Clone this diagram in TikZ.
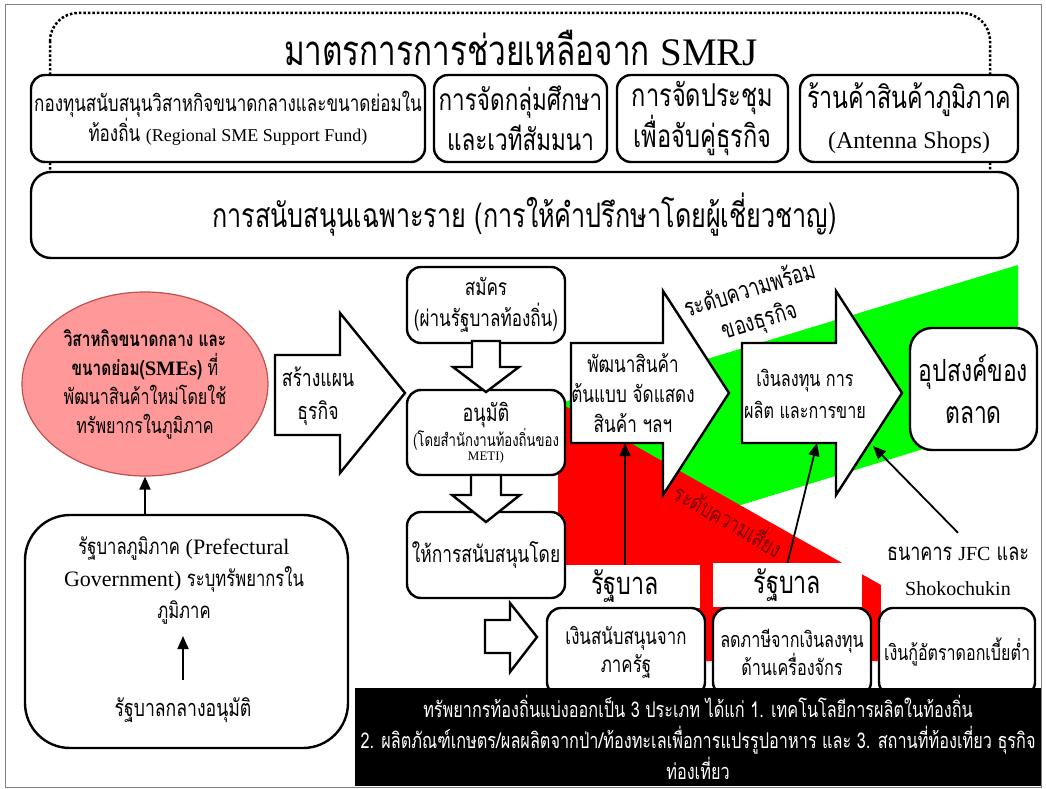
\documentclass[tikz,border=0pt]{standalone}
\usepackage{fontspec}
\setmainfont{Loma}[Script=Thai,FakeStretch=0.75]
\newfontfamily\latfont{Liberation Serif}
\usetikzlibrary{arrows.meta,shapes.geometric,positioning}
\newcommand\fsz[2]{\fontsize{#1}{#2}\selectfont}
\definecolor{smefill}{RGB}{255,153,153}
\definecolor{smeline}{RGB}{192,80,77}
\definecolor{riskred}{RGB}{120,0,0}
\definecolor{readygreen}{RGB}{0,255,0}
\definecolor{riskfill}{RGB}{255,0,0}
\tikzset{
	rbox/.style={draw, line width=2.4pt, rounded corners=14pt, fill=white, align=center, inner sep=0pt},
	barrow/.style={draw, line width=2.4pt, fill=white, line join=miter, miter limit=20},
	wlabel/.style={fill=white, inner sep=0pt, align=center},
	txt/.style={align=center, inner sep=0pt},
	conn/.style={line width=1.8pt, -{Triangle[length=13pt,width=11pt]}}
}
\begin{document}
\begin{tikzpicture}[x=1pt,y=-1pt]
	\useasboundingbox (0,0) rectangle (1046,789);
	\draw[gray, line width=0.8pt] (5,4) rectangle (1041,787);
	% SMRJ measures
	\draw[line width=2.5pt, dotted, rounded corners=28pt] (50,13) rectangle (990,230);
	\node[txt, font=\fsz{42}{46}] (title) at (521,48) {มาตรการการช่วยเหลือจาก {\latfont\fsz{39}{46}SMRJ}};
	\node[rbox, minimum width=394, minimum height=87, font=\fsz{22.7}{30}] (fund) at (228,118.5)
		{กองทุนสนับสนุนวิสาหกิจขนาดกลางและขนาดย่อมใน\\ท้องถิ่น {\latfont\fsz{18}{30}(Regional SME Support Fund)}};
	\node[rbox, minimum width=173, minimum height=87, font=\fsz{30}{40}] (seminar) at (520.5,118.5) {การจัดกลุ่มศึกษา\\และเวทีสัมมนา};
	\node[rbox, minimum width=171, minimum height=87, font=\fsz{31.5}{40}] (matching) at (702.5,118.5) {การจัดประชุม\\เพื่อจับคู่ธุรกิจ};
	\node[rbox, minimum width=218, minimum height=87, font=\fsz{31}{40}] (shops) at (909,118.5) {ร้านค้าสินค้าภูมิภาค\\{\latfont\fsz{24}{40}(Antenna Shops)}};
	\node[rbox, rounded corners=20pt, minimum width=987, minimum height=86, font=\fsz{33.6}{40}] (advice) at (524.5,215)
		{การสนับสนุนเฉพาะราย (การให้คำปรึกษาโดยผู้เชี่ยวชาญ)};
	% readiness and risk
	\fill[readygreen] (558,404) -- (1018,265) -- (1018,420) -- (558,561) -- cycle;
	\fill[riskfill] (558,402) -- (881,585) -- (881,661) -- (558,661) -- cycle;
	\node[txt, rotate=17, font=\fsz{25}{32}] (ready) at (755,306) {ระดับความพร้อม\\ของธุรกิจ};
	\node[txt, rotate=-30, text=riskred, font=\fsz{23.5}{30}] (risk) at (730,518) {ระดับความเสี่ยง};
	\node[wlabel, minimum width=150, minimum height=43, font=\fsz{31}{34}] (gov1) at (625,586.5) {รัฐบาล};
	\node[wlabel, minimum width=149, minimum height=44, font=\fsz{31}{34}] (gov2) at (787.5,585) {รัฐบาล};
	\node[wlabel, minimum width=154, minimum height=77, font=\fsz{24}{35}] (bank) at (958,571.5)
		{ธนาคาร {\latfont\fsz{20}{35}JFC} และ\\{\latfont\fsz{20}{35}Shokochukin}};
	% stages
	\draw[barrow] (571,343) -- (663,343) -- (663,291) -- (729,393) -- (663,495) -- (663,443) -- (571,443) -- cycle;
	\draw[barrow] (742,343) -- (836,343) -- (836,291) -- (902,393) -- (836,495) -- (836,443) -- (742,443) -- cycle;
	\node[txt, font=\fsz{22.8}{30}] (prodtxt) at (633,393) {พัฒนาสินค้า\\ต้นแบบ จัดแสดง\\สินค้า ฯลฯ};
	\node[txt, font=\fsz{21.6}{32}] (investtxt) at (805,394) {เงินลงทุน การ\\ผลิต และการขาย};
	\coordinate (prodfoot) at (625,443);
	\coordinate (investfoot) at (817,443);
	\coordinate (investhead) at (873,446);
	\node[rbox, rounded corners=22pt, minimum width=127, minimum height=122, font=\fsz{30.5}{42}] (demand) at (973.5,389) {อุปสงค์ของ\\ตลาด};
	% applicant side
	\node[ellipse, draw=smeline, line width=1.2pt, fill=smefill, minimum width=246, minimum height=184, inner sep=0pt, align=center, font=\fsz{21.5}{29}] (sme) at (145,384)
		{{\bfseries\fsz{20.5}{29}วิสาหกิจขนาดกลาง และ}\\{\bfseries\fsz{20.5}{29}ขนาดย่อม({\latfont SMEs})} ที่\\พัฒนาสินค้าใหม่โดยใช้\\ทรัพยากรในภูมิภาค};
	\draw[barrow] (275,355) -- (340,355) -- (340,313) -- (405,393) -- (340,473) -- (340,435) -- (275,435) -- cycle;
	\node[txt, font=\fsz{23.5}{33}] (plantxt) at (318,396) {สร้างแผน\\ธุรกิจ};
	\node[rbox, minimum width=323, minimum height=233, rounded corners=45pt] (pref) at (186.5,631.5) {};
	\node[txt, font=\fsz{22.2}{32}] (preftxt) at (184,580) {รัฐบาลภูมิภาค {\latfont\fsz{22}{32}(Prefectural}\\{\latfont\fsz{22}{32}Government)} ระบุทรัพยากรใน\\ภูมิภาค};
	\node[txt, font=\fsz{23.5}{30}] (central) at (183,710) {รัฐบาลกลางอนุมัติ};
	\draw[conn] (central.north |- 0,680) -- (central.north |- 0,636);
	\draw[conn] (sme.south |- pref.north) -- (sme.south);
	% procedure
	\node[rbox, minimum width=158, minimum height=76, font=\fsz{22.8}{31}] (apply) at (486,305) {สมัคร\\(ผ่านรัฐบาลท้องถิ่น)};
	\node[rbox, minimum width=158, minimum height=85] (approve) at (486,432.5)
		{{\fsz{24}{25}อนุมัติ}\\{\fsz{17.5}{26}(โดยสำนักงานท้องถิ่นของ}\\{\latfont\fsz{13}{26}METI)}};
	\node[rbox, minimum width=158, minimum height=86, font=\fsz{23.2}{30}] (support) at (486,555) {ให้การสนับสนุนโดย};
	\draw[barrow] (472,341) -- (500,341) -- (500,367) -- (519,367) -- (486,392) -- (453,367) -- (472,367) -- cycle;
	\draw[barrow] (471,475) -- (501,475) -- (501,495) -- (520,495) -- (486,522) -- (452,495) -- (471,495) -- cycle;
	\draw[barrow] (485,620) -- (510,620) -- (510,603) -- (537,637) -- (510,672) -- (510,653) -- (485,653) -- cycle;
	% support measures
	\node[rbox, minimum width=158, minimum height=88, font=\fsz{22.5}{28}] (grant) at (626,652) {เงินสนับสนุนจาก\\ภาครัฐ};
	\node[rbox, minimum width=158, minimum height=88, font=\fsz{21.6}{28}] (tax) at (792,652) {ลดภาษีจากเงินลงทุน\\ด้านเครื่องจักร};
	\node[rbox, minimum width=156, minimum height=88, font=\fsz{21.4}{28}] (loan) at (957,652) {เงินกู้อัตราดอกเบี้ยต่ำ};
	\draw[conn] (gov1.north) -- (prodfoot);
	\draw[conn] (gov2.north) -- (investfoot);
	\draw[conn] (bank.north) -- (investhead);
	\node[fill=black, text=white, minimum width=686, minimum height=98, inner sep=0pt, align=center, font=\fsz{21.7}{31}] (note) at (698,737)
		{ทรัพยากรท้องถิ่นแบ่งออกเป็น 3 ประเภท ได้แก่ 1. เทคโนโลยีการผลิตในท้องถิ่น\\2. ผลิตภัณฑ์เกษตร/ผลผลิตจากป่า/ท้องทะเลเพื่อการแปรรูปอาหาร และ 3. สถานที่ท้องเที่ยว ธุรกิจ\\ท่องเที่ยว};
\end{tikzpicture}
\end{document}
